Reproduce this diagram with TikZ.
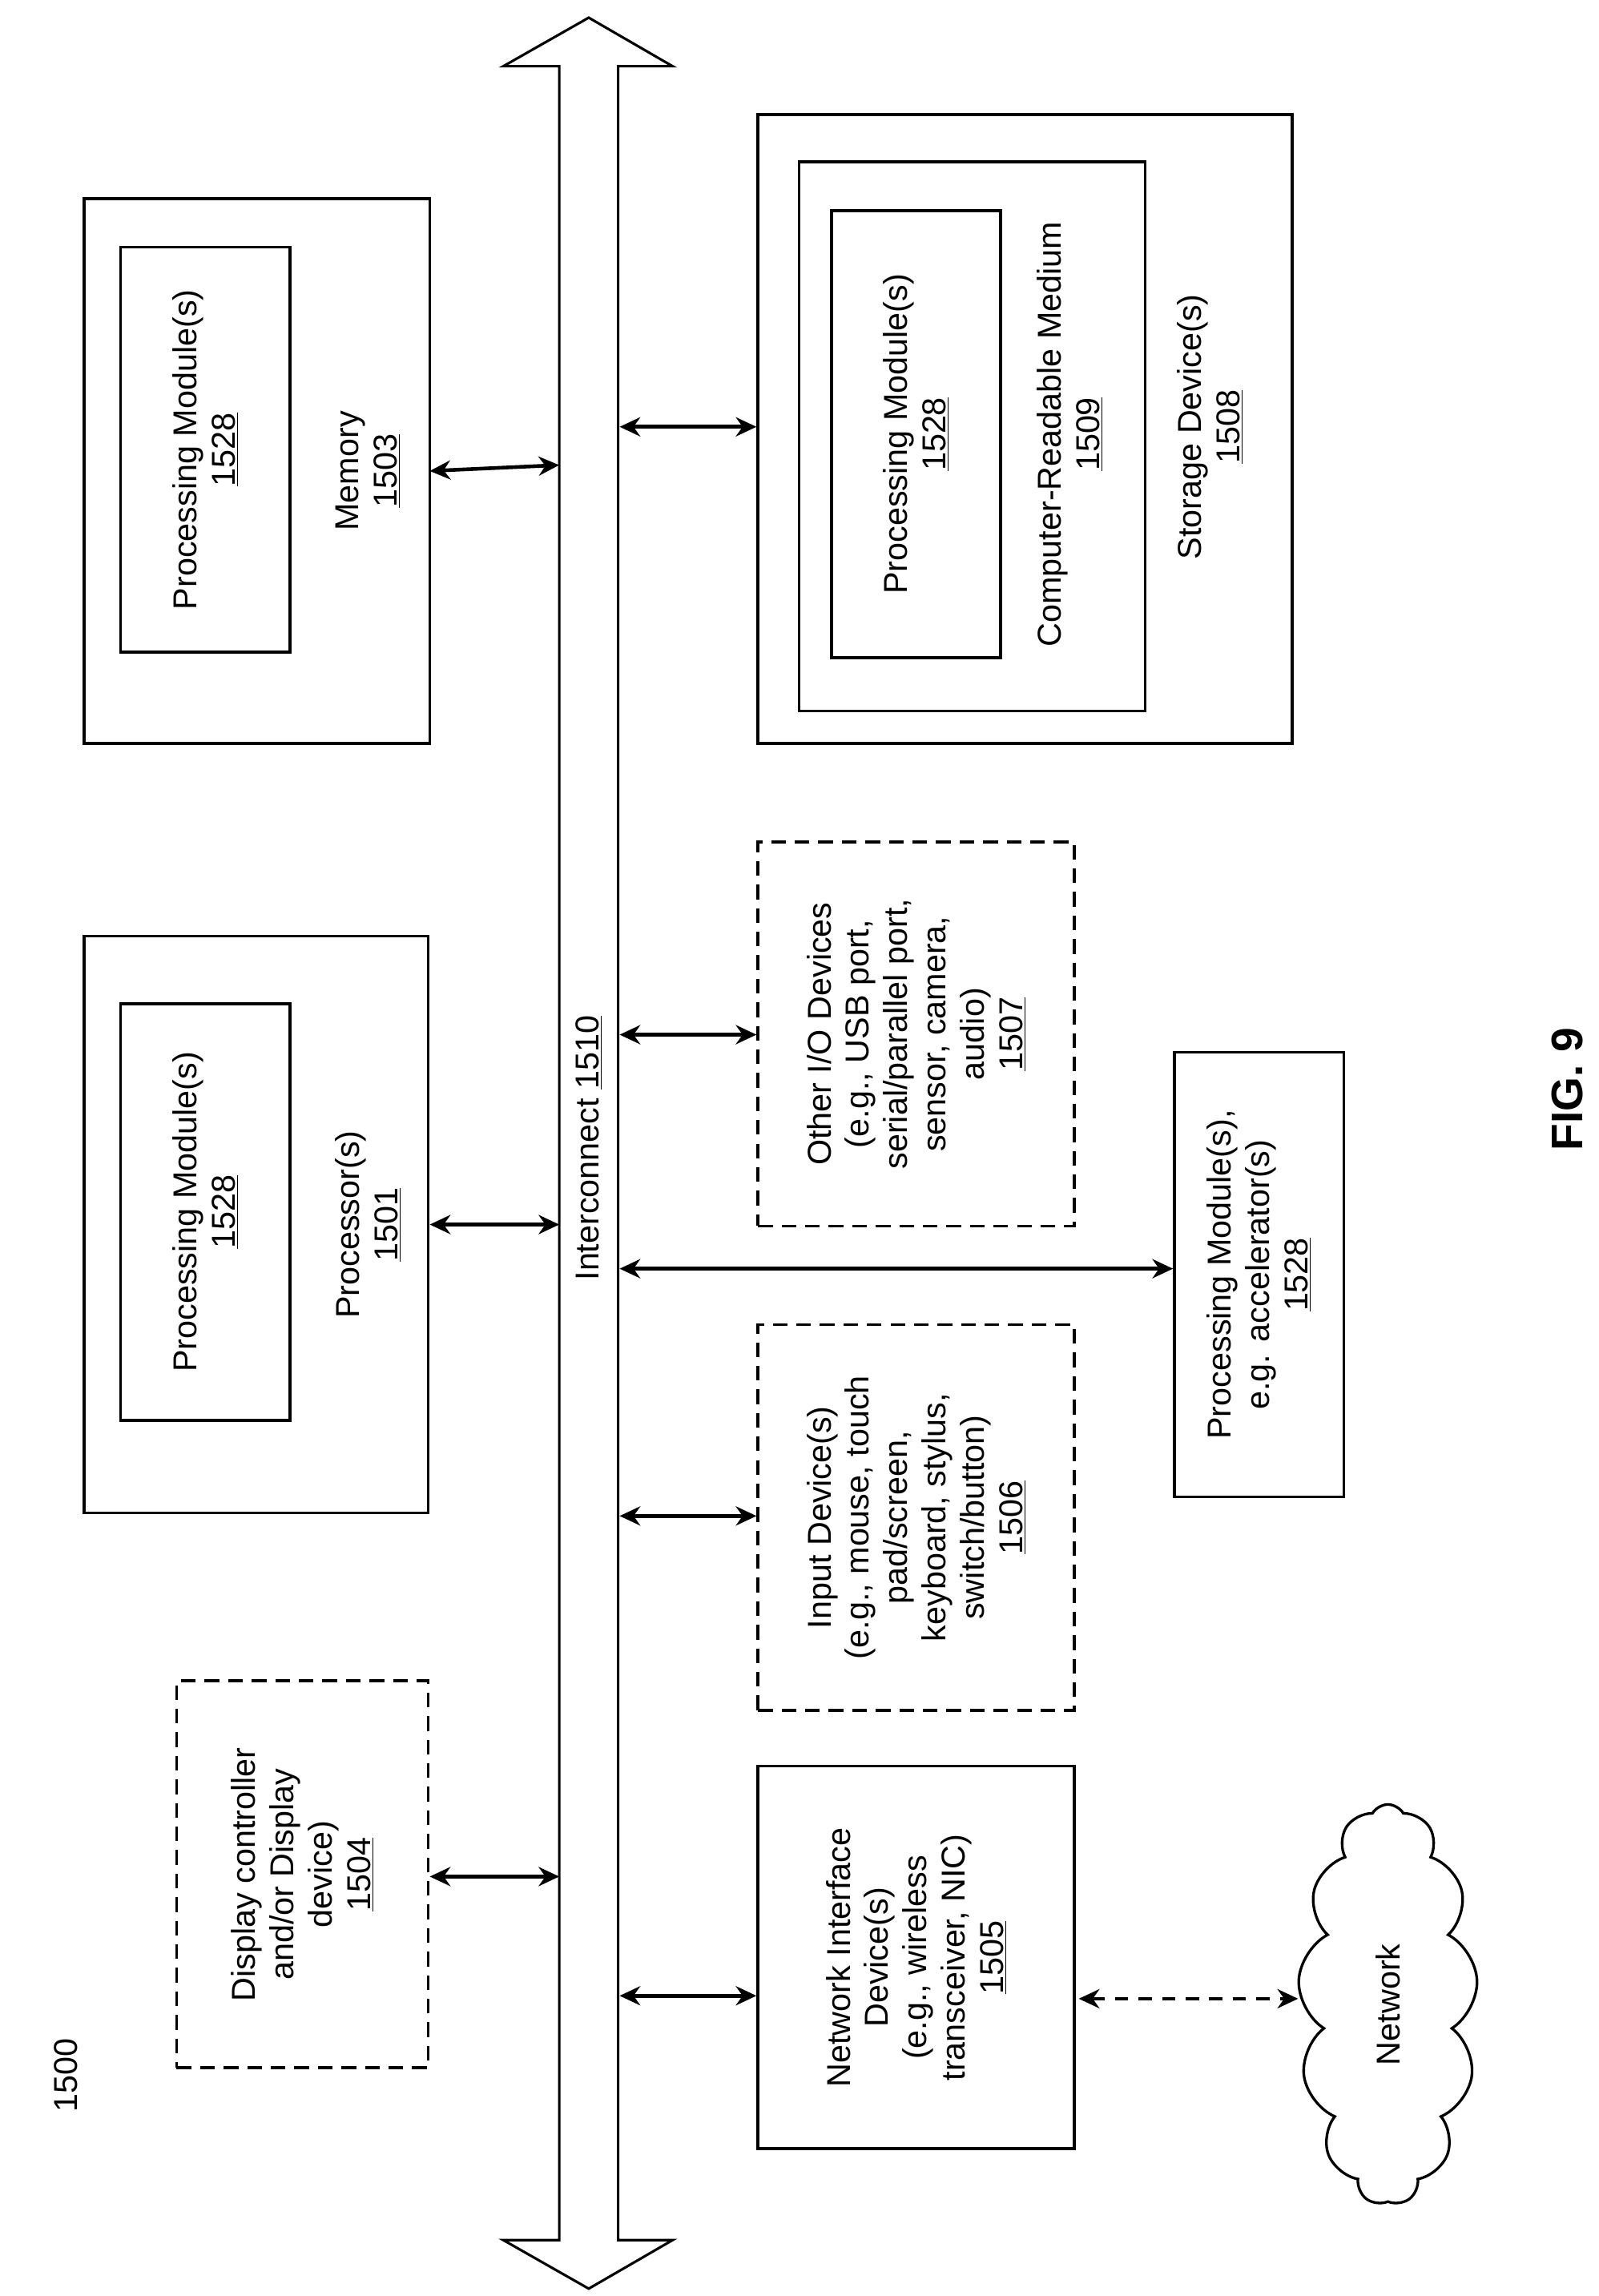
\documentclass[tikz,border=0pt]{standalone}
\usepackage{fontspec}
\setmainfont{Liberation Sans}
\usetikzlibrary{arrows.meta,shapes.symbols}
\begin{document}
\begin{tikzpicture}[x=1pt,y=-1pt,
  box/.style={draw,line width=2pt,inner sep=0pt},
  dbox/.style={box,dash pattern=on 10pt off 6pt},
  lbl/.style={rotate=90,align=center,font=\fontsize{22.5}{26}\selectfont},
  arr/.style={line width=2.5pt,{Stealth[length=14pt,width=13pt]}-{Stealth[length=14pt,width=13pt]}}]
\useasboundingbox (0,0) rectangle (1086,1560);
% bus
\draw[line width=1.7pt] (400,12) -- (342,45) -- (380,45) -- (380,1522) -- (342,1522) -- (400,1555) -- (457,1522) -- (420,1522) -- (420,45) -- (457,45) -- cycle;
\node[lbl] (busl) at (400,780) {Interconnect \underline{1510}};
% memory
\node[box,minimum width=235pt,minimum height=370pt] (mem) at (174.5,320) {};
\node[box,minimum width=115pt,minimum height=275pt] (memin) at (139.5,305.5) {};
\node[lbl] at (139.5,305.5) {Processing Module(s)\\\underline{1528}};
\node[lbl] at (250,320) {Memory\\\underline{1503}};
% processor
\node[box,minimum width=234pt,minimum height=392pt] (proc) at (174,832) {};
\node[box,minimum width=115pt,minimum height=283pt] (procin) at (139.5,823.5) {};
\node[lbl] at (139.5,823.5) {Processing Module(s)\\\underline{1528}};
\node[lbl] at (250,832) {Processor(s)\\\underline{1501}};
% display
\node[dbox,minimum width=171pt,minimum height=263pt] (disp) at (205.5,1273.5) {};
\node[lbl] at (205.5,1273.5) {Display controller\\and/or Display\\device)\\\underline{1504}};
% storage
\node[box,minimum width=363pt,minimum height=427pt] (stor) at (696.5,291.5) {};
\node[box,minimum width=235pt,minimum height=373pt] (crm) at (660.5,296.5) {};
\node[box,minimum width=115pt,minimum height=304pt] (storin) at (622.5,295) {};
\node[lbl] at (622.5,295) {Processing Module(s)\\\underline{1528}};
\node[lbl] at (727,295) {Computer-Readable Medium\\\underline{1509}};
\node[lbl] at (822,290) {Storage Device(s)\\\underline{1508}};
% other io
\node[dbox,minimum width=215pt,minimum height=261pt] (oio) at (622.5,702.5) {};
\node[lbl] at (622.5,702.5) {Other I/O Devices\\(e.g., USB port,\\serial/parallel port,\\sensor, camera,\\audio)\\\underline{1507}};
% accelerator
\node[box,minimum width=115pt,minimum height=302pt] (acc) at (855.5,866) {};
\node[lbl] at (855.5,866) {Processing Module(s),\\e.g. accelerator(s)\\\underline{1528}};
% input
\node[dbox,minimum width=215pt,minimum height=262pt] (inp) at (622.5,1031) {};
\node[lbl] at (622.5,1031) {Input Device(s)\\(e.g., mouse, touch\\pad/screen,\\keyboard, stylus,\\switch/button)\\\underline{1506}};
% NIC
\node[box,minimum width=215pt,minimum height=260pt] (nic) at (622.5,1330) {};
\node[lbl] at (622.5,1330) {Network Interface\\Device(s)\\(e.g., wireless\\transceiver, NIC)\\\underline{1505}};
% network
\node[draw,line width=1.8pt,cloud,cloud puffs=13,cloud puff arc=120,aspect=0.45,minimum width=122pt,minimum height=272pt,inner sep=0pt] (net) at (943,1362) {};
\node[lbl] at (943,1362) {Network};
% arrows
\coordinate (m1) at (380,316); \coordinate (p1) at (380,832); \coordinate (d1) at (380,1275);
\coordinate (s1) at (421,290); \coordinate (o1) at (421,703); \coordinate (a1) at (421,862);
\coordinate (i1) at (421,1030); \coordinate (n1) at (421,1356);
\draw[arr] (292,320) -- (m1);
\draw[arr] (proc.east |- p1) -- (p1);
\draw[arr] (disp.east |- d1) -- (d1);
\draw[arr] (s1) -- (stor.west |- s1);
\draw[arr] (o1) -- (oio.west |- o1);
\draw[arr] (a1) -- (acc.west |- a1);
\draw[arr] (i1) -- (inp.west |- i1);
\draw[arr] (n1) -- (nic.west |- n1);
\draw[arr,dash pattern=on 9pt off 7pt] (733,1358) -- (882,1358);
% labels
\node[lbl] (num) at (45,1410) {1500};
\node[lbl,font=\fontsize{30}{34}\selectfont\bfseries] (fig) at (1065,740) {FIG. 9};
\end{tikzpicture}
\end{document}
